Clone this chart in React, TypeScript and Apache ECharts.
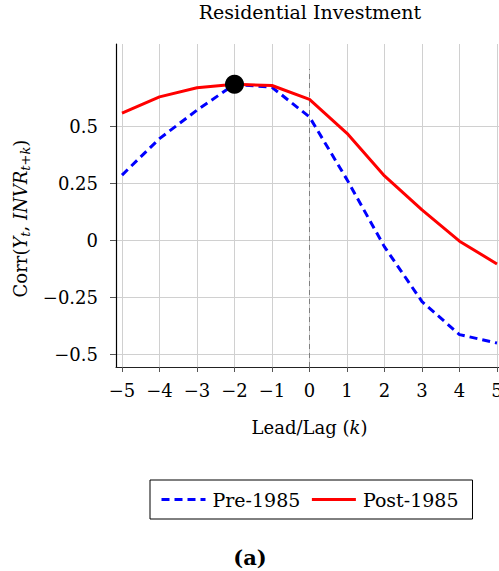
import React, { useEffect, useRef } from 'react';
import * as echarts from 'echarts';

const lags = [-5, -4, -3, -2, -1, 0, 1, 2, 3, 4, 5];
const pre1985 = [0.285, 0.445, 0.57, 0.683, 0.67, 0.54, 0.265, -0.03, -0.27, -0.415, -0.452];
const post1985 = [0.557, 0.628, 0.668, 0.683, 0.678, 0.617, 0.468, 0.281, 0.132, -0.005, -0.105];
const peakPoint = [-2, 0.683];
const xTicks = [-5, -4, -3, -2, -1, 0, 1, 2, 3, 4, 5];
const yTicks = [-0.5, -0.25, 0, 0.25, 0.5];
const titleText = 'Residential Investment';
const panelLabel = '(a)';
const seriesNames = ['Pre-1985', 'Post-1985'];

const FONT = "'DejaVu Serif', serif";
const fmt = (v: number) => (v < 0 ? '\u2212' + Math.abs(v) : String(v));

export default function App() {
  const ref = useRef<HTMLDivElement>(null);
  useEffect(() => {
    if (!ref.current) return;
    const chart = echarts.init(ref.current, null, { renderer: 'svg' });
    const option: any = {
      animation: false,
      backgroundColor: '#fff',
      textStyle: { fontFamily: FONT },
      grid: { left: 116, top: 44, right: -4, bottom: 204, containLabel: false, outerBoundsMode: 'none' },
      xAxis: {
        type: 'value',
        min: -5.16,
        max: 5.16,
        name: '{r|Lead/Lag (}{i|k}{r|)}',
        nameLocation: 'middle',
        nameGap: 51,
        nameTextStyle: {
          rich: {
            r: { fontSize: 18, fontFamily: FONT, color: '#000' },
            i: { fontSize: 18, fontFamily: FONT, fontStyle: 'italic', color: '#000' },
          },
        },
        axisLine: { onZero: false, lineStyle: { color: '#222', width: 1.2 } },
        axisTick: { customValues: xTicks, length: 5, lineStyle: { color: '#555' } },
        axisLabel: {
          customValues: xTicks,
          formatter: fmt,
          fontSize: 18,
          fontFamily: FONT,
          color: '#000',
          margin: 14,
        },
        splitLine: { show: true, lineStyle: { color: '#d0d0d0', width: 1 } },
      },
      yAxis: {
        type: 'value',
        min: -0.557,
        max: 0.86,
        name: '{r|Corr(}{i|Y}{s|t}{r|, }{i|INVR}{s|t+k}{r|)}',
        nameLocation: 'middle',
        nameRotate: 90,
        nameGap: 83,
        nameTextStyle: {
          padding: [0, 26, 0, 0],
          rich: {
            r: { fontSize: 18, fontFamily: FONT, color: '#000', lineHeight: 22 },
            i: { fontSize: 18, fontFamily: FONT, fontStyle: 'italic', color: '#000', lineHeight: 22 },
            s: { fontSize: 13, fontFamily: FONT, fontStyle: 'italic', color: '#000', lineHeight: 10, verticalAlign: 'bottom' },
          },
        },
        axisLine: { show: true, onZero: false, lineStyle: { color: '#000', width: 1.2 } },
        axisTick: { show: true, customValues: yTicks, length: 6, lineStyle: { color: '#555' } },
        axisLabel: {
          customValues: yTicks,
          formatter: fmt,
          fontSize: 18,
          fontFamily: FONT,
          color: '#000',
          margin: 18,
        },
        splitLine: { show: true, lineStyle: { color: '#d0d0d0', width: 1 } },
      },
      legend: {
        data: seriesNames,
        left: 150,
        top: 480,
        orient: 'horizontal',
        borderColor: '#000',
        borderWidth: 1,
        padding: [10, 14, 10, 10],
        itemWidth: 44,
        itemHeight: 18,
        itemGap: 10,
        itemStyle: { opacity: 0 },
        lineStyle: { width: 3 },
        textStyle: { fontSize: 19, fontFamily: FONT, color: '#000', padding: [0, 0, 0, 2] },
      },
      series: [
        {
          name: seriesNames[0],
          type: 'line',
          data: lags.map((x, i) => [x, pre1985[i]]),
          symbol: 'circle',
          showSymbol: false,
          z: 3,
          lineStyle: { color: '#0000ff', width: 3, type: [8, 5] },
          itemStyle: { color: '#0000ff' },
          markLine: {
            silent: true,
            symbol: ['none', 'none'],
            label: { show: false },
            lineStyle: { color: '#808080', width: 1, type: [5, 4] },
            data: [[{ coord: [0, -0.557] }, { coord: [0, 0.75] }]],
            z: 1,
          },
        },
        {
          name: seriesNames[1],
          type: 'line',
          data: lags.map((x, i) => [x, post1985[i]]),
          symbol: 'circle',
          showSymbol: false,
          z: 4,
          lineStyle: { color: '#ff0000', width: 3 },
          itemStyle: { color: '#ff0000' },
        },
        {
          name: 'peak',
          type: 'scatter',
          data: [peakPoint],
          symbol: 'circle',
          symbolSize: 19,
          z: 5,
          itemStyle: { color: '#000', opacity: 1 },
        },
      ],
      graphic: [
        {
          type: 'text',
          x: 310,
          y: 12,
          style: {
            text: titleText,
            fontSize: 19,
            fontFamily: FONT,
            fill: '#000',
            align: 'center',
            verticalAlign: 'middle',
          },
        },
        {
          type: 'text',
          x: 250,
          y: 557,
          style: {
            text: panelLabel,
            fontSize: 21,
            fontWeight: 'bold',
            fontFamily: FONT,
            fill: '#000',
            align: 'center',
            verticalAlign: 'middle',
          },
        },
      ],
    };
    chart.setOption(option);
    return () => chart.dispose();
  }, []);
  return (
    <div
      ref={ref}
      style={{ position: 'absolute', left: 0, top: 0, width: 499, height: 571, background: '#fff' }}
    />
  );
}
